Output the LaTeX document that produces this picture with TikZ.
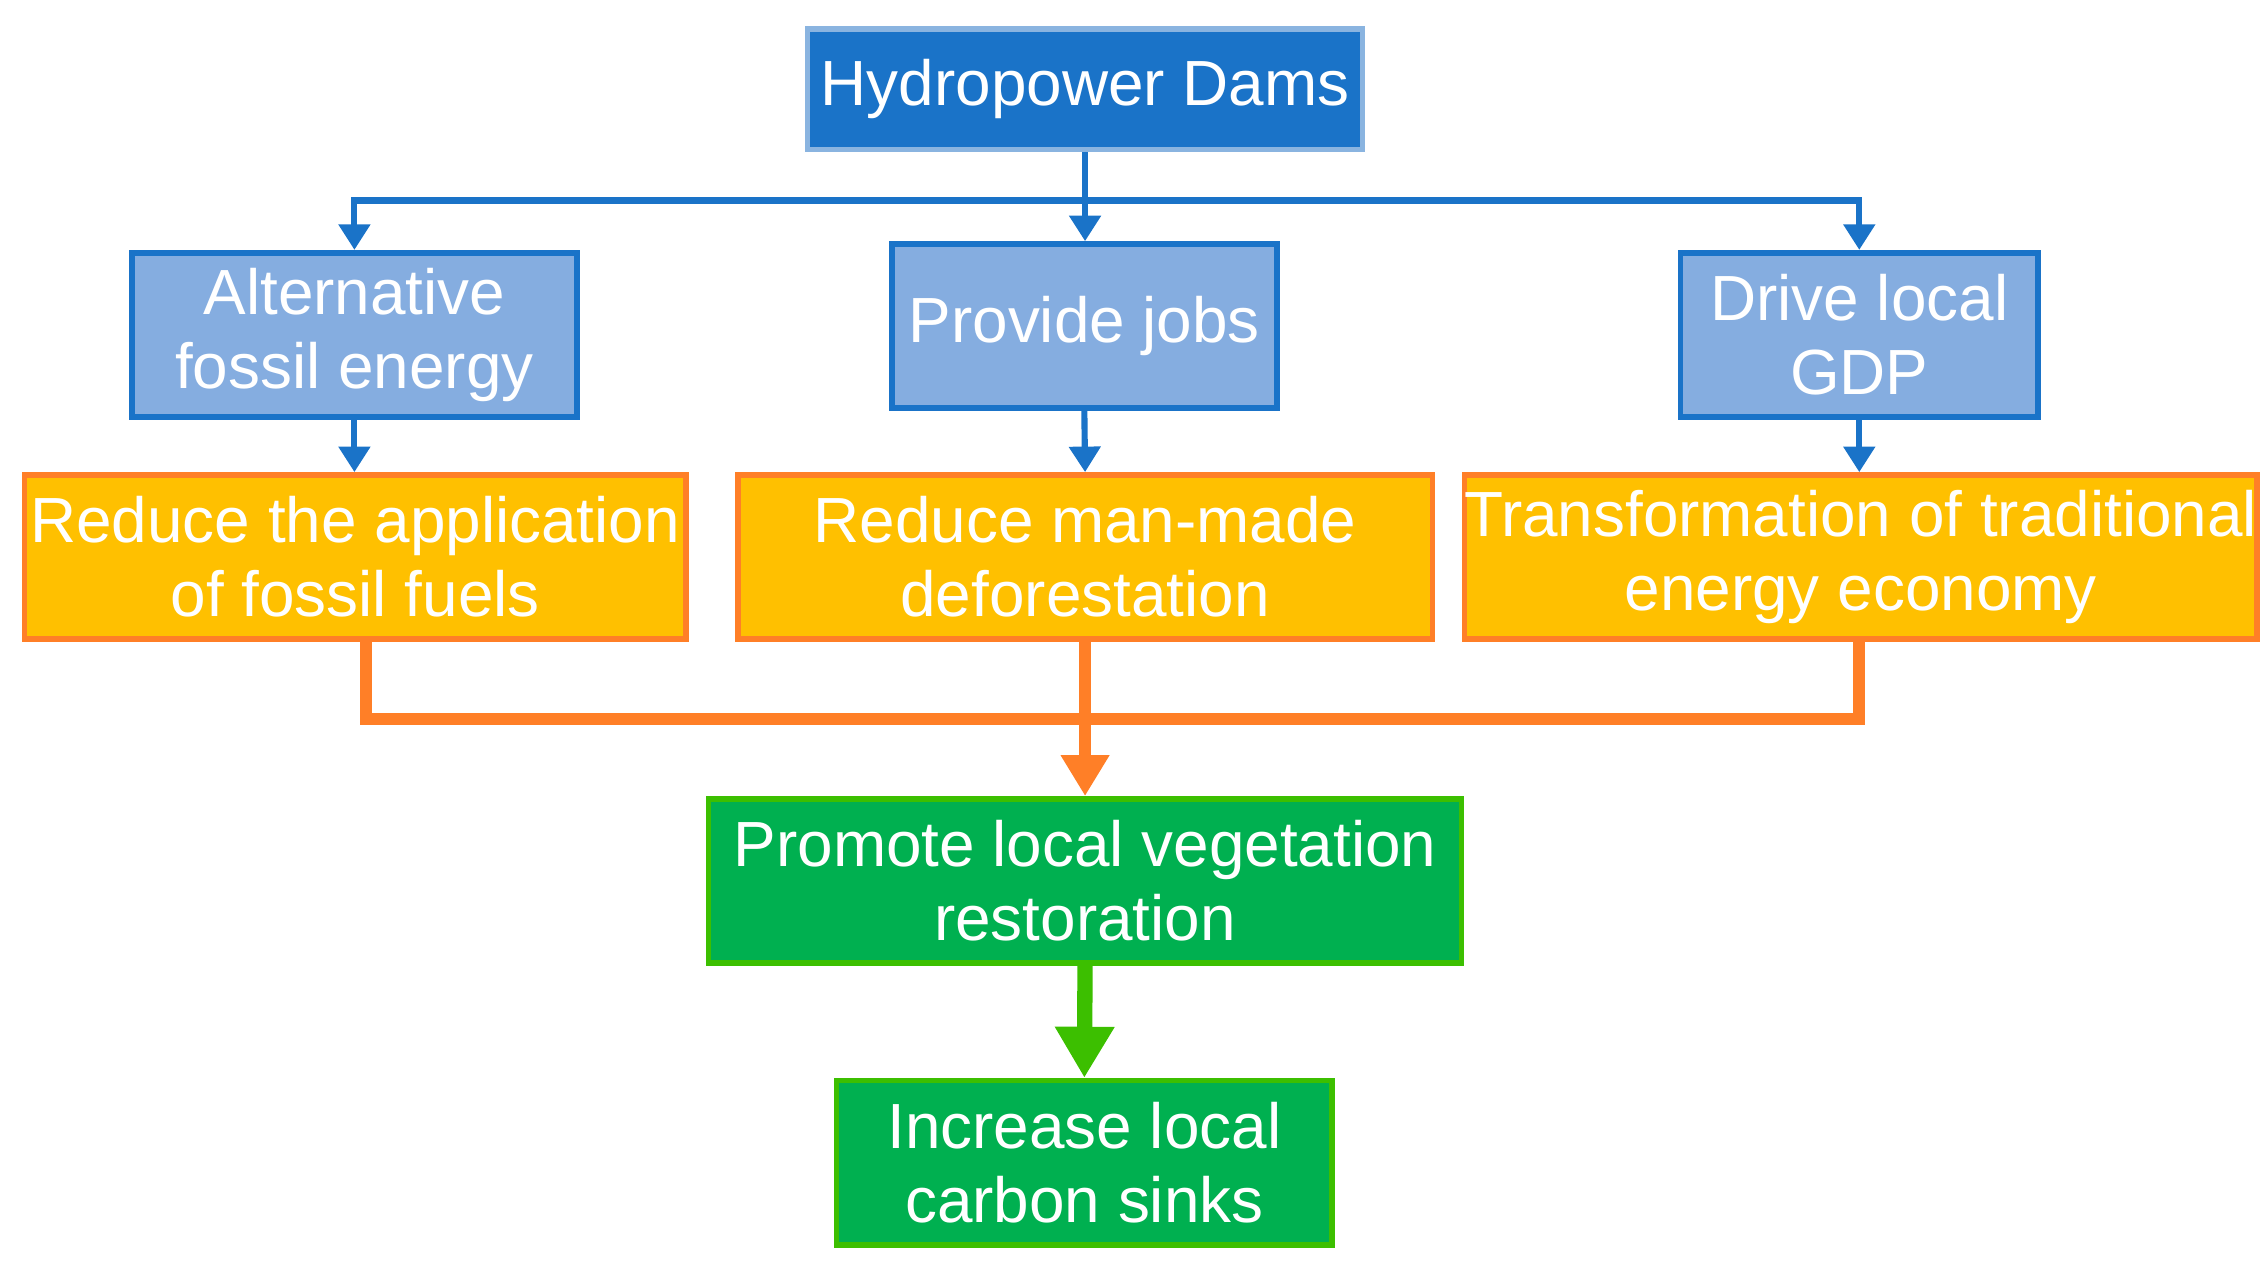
\documentclass[tikz,border=0pt]{standalone}
\usepackage{fontspec}
\setmainfont{Liberation Sans}
\usetikzlibrary{arrows.meta}
\definecolor{dblue}{HTML}{1A73C8}
\definecolor{lblue}{HTML}{85ADE0}
\definecolor{bord}{HTML}{8AB4E0}
\definecolor{yel}{HTML}{FFC000}
\definecolor{org}{HTML}{FF7F27}
\definecolor{grn}{HTML}{00B050}
\definecolor{lgrn}{HTML}{3CBF00}
\begin{document}
\begin{tikzpicture}[x=0.01cm,y=-0.01cm,
 box/.style={draw,line width=1.1pt,align=center,text=white,font=\fontsize{12.5}{14.5}\selectfont,inner sep=0pt,minimum height=1.13cm},
 bl/.style={box,fill=lblue,draw=dblue},
 yb/.style={box,fill=yel,draw=org},
 gb/.style={box,fill=grn,draw=lgrn},
 ba/.style={draw=dblue,line width=1.2pt,-{Triangle[length=5pt,width=6pt]}},
]
\useasboundingbox (0,0) rectangle (1560,872);
\node[box,fill=dblue,draw=bord,minimum width=3.82cm,minimum height=0.83cm] (h) at (747,61.5) {Hydropower Dams};
\node[bl,minimum width=3.06cm] (a) at (244,230.5) {Alternative\\fossil energy};
\node[bl,minimum width=2.65cm] (p) at (746.5,224.5) {Provide jobs};
\node[bl,minimum width=2.46cm] (d) at (1280,230.5) {Drive local\\GDP};
\node[yb,minimum width=4.55cm] (r1) at (244.5,383.5) {Reduce the application\\of fossil fuels};
\node[yb,minimum width=4.78cm] (r2) at (747,383.5) {Reduce man-made\\deforestation};
\node[yb,minimum width=5.44cm] (r3) at (1281,383.5) {Transformation of traditional\\energy economy};
\node[gb,minimum width=5.18cm] (g1) at (747,606.5) {Promote local vegetation\\restoration};
\node[gb,minimum width=3.41cm] (g2) at (746.5,800.5) {Increase local\\carbon sinks};
\coordinate (j) at (747,138);
\draw[dblue,line width=1.2pt] (h.south) -- (j);
\draw[ba] (j) -| (a.north);
\draw[ba] (j) -- (j |- p.north);
\draw[ba] (j) -| (d.north);
\draw[ba] (a.south) -- (r1.north -| a.south);
\draw[ba] (p.south) -- (r2.north);
\draw[ba] (d.south) -- (r3.north -| d.south);
\draw[org,line width=2.3pt] (252,440) |- (1280,495) -- (1280,440);
\draw[org,line width=2.3pt,-{Triangle[length=8pt,width=9pt]}] (r2.south) -- (g1.north);
\draw[lgrn,line width=3pt,-{Triangle[length=10pt,width=11pt]}] (g1.south) -- (g2.north);
\end{tikzpicture}
\end{document}
